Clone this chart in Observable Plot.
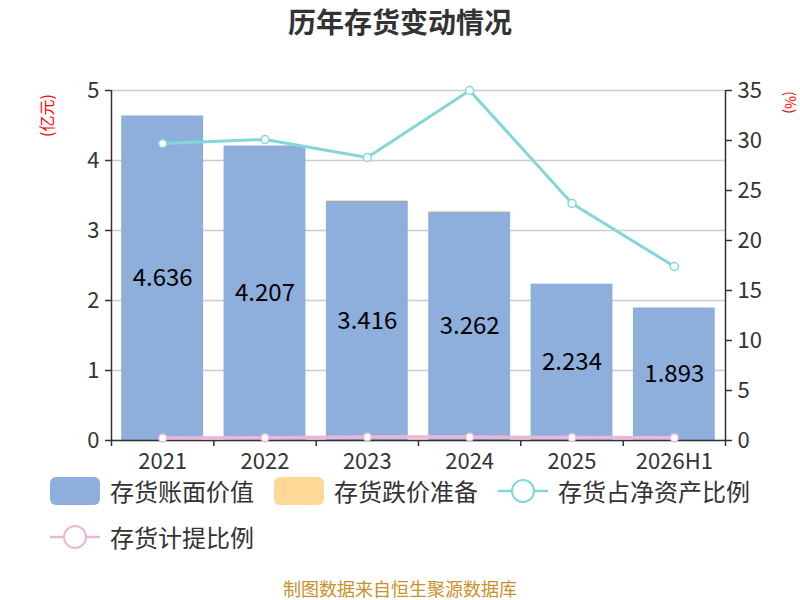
<!DOCTYPE html>
<html>
<head>
<meta charset="utf-8">
<script src="https://cdn.jsdelivr.net/npm/d3@7"></script>
<script src="https://cdn.jsdelivr.net/npm/@observablehq/plot@0.6"></script>
<style>
  body { margin: 0; background: #fff; font-family: "Noto Sans CJK SC", "Noto Sans", sans-serif; }
  #wrap { width: 800px; height: 600px; position: relative; overflow: hidden; }
  #title { height: 50px; line-height: 42px; text-align: center; font-size: 28px; font-weight: bold; color: #333; }
  #chart { height: 430px; }
  .legend { display: flex; align-items: center; height: 46px; padding-left: 50px; font-size: 24px; color: #333; }
  #leg1 { margin-top: -12px; }
  .item { display: flex; align-items: center; margin-right: 20px; }
  .item svg { margin-right: 10px; }
  .item span { line-height: 24px; }
  #caption { position: absolute; top: 578px; width: 800px; text-align: center; font-size: 18px; line-height: 20px; color: #c8922a; }
</style>
</head>
<body>
<div id="wrap">
  <div id="title">历年存货变动情况</div>
  <div id="chart"></div>
  <div class="legend" id="leg1"></div>
  <div class="legend" id="leg2"></div>
  <div id="caption">制图数据来自恒生聚源数据库</div>
</div>
<script>
const categories = ["2021", "2022", "2023", "2024", "2025", "2026H1"];
const bookValue = [4.636, 4.207, 3.416, 3.262, 2.234, 1.893];
const provision = [0, 0, 0.012, 0.012, 0, 0];
const netAssetRatio = [29.7, 30.1, 28.3, 35.0, 23.7, 17.4];
const provisionRatio = [0.25, 0.28, 0.35, 0.35, 0.3, 0.28];
const leftTicks = [0, 1, 2, 3, 4, 5];
const rightTicks = [0, 5, 10, 15, 20, 25, 30, 35];

const colors = { book: "#8eaedc", prov: "#ffd898", net: "#85d6d8", ratio: "#ebb7d9" };
const k = 5 / 35; // right axis -> left axis units
const idx = d3.range(categories.length);

const plot = Plot.plot({
  width: 800,
  height: 430,
  marginTop: 40,
  marginBottom: 40,
  marginLeft: 111,
  marginRight: 75,
  style: { fontFamily: "Noto Sans CJK SC, Noto Sans, sans-serif", color: "#333", background: "#fff" },
  x: { type: "linear", domain: [0, categories.length], axis: null },
  y: { domain: [0, 5], axis: null },
  marks: [
    Plot.gridY(leftTicks, { stroke: "#ccc", strokeOpacity: 1, strokeWidth: 1.5 }),
    Plot.rectY(idx, { x1: i => i + 0.1, x2: i => i + 0.9, y1: 0, y2: i => bookValue[i], fill: colors.book }),
    Plot.rectY(idx, { x1: i => i + 0.1, x2: i => i + 0.9, y1: i => bookValue[i], y2: i => bookValue[i] + provision[i], fill: colors.prov }),
    Plot.text(idx, { x: i => i + 0.5, y: i => bookValue[i] / 2, text: i => bookValue[i].toFixed(3), fill: "#000", fontSize: 24 }),
    Plot.ruleX([0, categories.length], { y1: 0, y2: 5, stroke: "#333", strokeWidth: 1.5 }),
    Plot.ruleY([0], { stroke: "#333", strokeWidth: 1.5 }),
    Plot.line(idx, { x: i => i + 0.5, y: i => provisionRatio[i] * k, stroke: colors.ratio, strokeWidth: 3.5 }),
    Plot.dot(idx, { x: i => i + 0.5, y: i => provisionRatio[i] * k, r: 4, fill: "#fff", stroke: colors.ratio, strokeWidth: 1.5 }),
    Plot.line(idx, { x: i => i + 0.5, y: i => netAssetRatio[i] * k, stroke: colors.net, strokeWidth: 3 }),
    Plot.dot(idx, { x: i => i + 0.5, y: i => netAssetRatio[i] * k, r: 4, fill: "#fff", stroke: colors.net, strokeWidth: 1.5 }),
    Plot.axisY({ anchor: "left", ticks: leftTicks, tickFormat: d3.format("d"), tickSize: 6, tickPadding: 6, fontSize: 22, stroke: "#333", strokeWidth: 1.5 }),
    Plot.axisY({ anchor: "right", ticks: rightTicks.map(v => v * k), tickFormat: v => Math.round(v / k), tickSize: 6, tickPadding: 6, fontSize: 22, stroke: "#333", strokeWidth: 1.5 }),
    Plot.axisX({ ticks: d3.range(categories.length + 1), tickFormat: () => "", tickSize: 6, stroke: "#333", strokeWidth: 1.5 }),
    Plot.axisX({ ticks: idx.map(i => i + 0.5), tickFormat: v => categories[Math.floor(v)], tickSize: 0, tickPadding: 13, fontSize: 22 }),
    Plot.text(["(亿元)"], { frameAnchor: "top-left", dx: -64, dy: 25, rotate: -90, fill: "red", fontSize: 16, textAnchor: "middle", lineAnchor: "middle" }),
    Plot.text(["(%)"], { frameAnchor: "top-right", dx: 64, dy: 12, rotate: 90, fill: "red", fontSize: 14, textAnchor: "middle", lineAnchor: "middle" })
  ]
});
document.getElementById("chart").appendChild(plot);

function rectIcon(c) {
  return `<svg width="50" height="30"><rect x="0" y="1" width="50" height="28" rx="6" fill="${c}"/></svg>`;
}
function lineIcon(c) {
  return `<svg width="50" height="30"><line x1="0" y1="15" x2="50" y2="15" stroke="${c}" stroke-width="2.5"/><circle cx="25" cy="15" r="11" fill="#fff" stroke="${c}" stroke-width="2"/></svg>`;
}
const leg1 = [
  [rectIcon(colors.book), "存货账面价值"],
  [rectIcon(colors.prov), "存货跌价准备"],
  [lineIcon(colors.net), "存货占净资产比例"]
];
const leg2 = [[lineIcon(colors.ratio), "存货计提比例"]];
document.getElementById("leg1").innerHTML = leg1.map(([ic, t]) => `<div class="item">${ic}<span>${t}</span></div>`).join("");
document.getElementById("leg2").innerHTML = leg2.map(([ic, t]) => `<div class="item">${ic}<span>${t}</span></div>`).join("");
</script>
</body>
</html>
